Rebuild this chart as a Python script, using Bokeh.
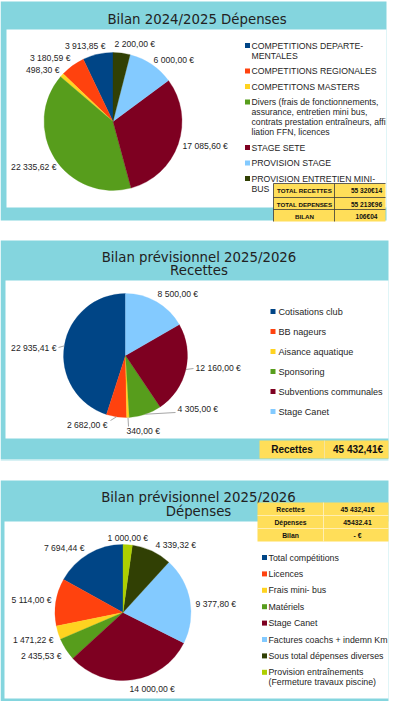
import numpy as np
from bokeh.plotting import figure
from bokeh.models import Range1d, ColumnDataSource
from bokeh.core.properties import value
from bokeh.embed import file_html
from bokeh.resources import INLINE

# ---------------- data ----------------
title1 = ["Bilan 2024/2025 Dépenses"]
dep24_labels = [
    "COMPETITIONS DEPARTE-\nMENTALES",
    "COMPETITIONS REGIONALES",
    "COMPETITONS MASTERS",
    "Divers (frais de fonctionnements,\nassurance, entretien mini bus,\ncontrats prestation entraîneurs, affi\nliation FFN, licences",
    "STAGE SETE",
    "PROVISION STAGE",
    "PROVISION ENTRETIEN MINI-\nBUS",
]
dep24_values = [3913.85, 3180.59, 498.30, 22335.62, 17085.60, 6000.00, 2200.00]
table24_labels = ["TOTAL RECETTES", "TOTAL DEPENSES", "BILAN"]
table24_values = ["55 320€14", "55 213€96", "106€04"]

title2 = ["Bilan prévisionnel 2025/2026", "Recettes"]
rec26_labels = ["Cotisations club", "BB nageurs", "Aisance aquatique", "Sponsoring",
                "Subventions communales", "Stage Canet"]
rec26_values = [22935.41, 2682.00, 340.00, 4305.00, 12160.00, 8500.00]
rec26_total = ["Recettes", "45 432,41€"]

title3 = ["Bilan prévisionnel 2025/2026", "Dépenses"]
dep26_labels = ["Total compétitions", "Licences", "Frais mini- bus", "Matériels", "Stage Canet",
                "Factures coachs + indemn Km", "Sous total dépenses diverses",
                "Provision entraînements\n(Fermeture travaux piscine)"]
dep26_values = [7694.44, 5114.00, 1471.22, 2435.53, 14000.00, 9377.80, 4339.32, 1000.00]
table26_labels = ["Recettes", "Dépenses", "Bilan"]
table26_values = ["45 432,41€", "45432.41", "- €"]

slice_colors = ["#004586", "#ff420e", "#ffd320", "#579d1c", "#7e0021", "#83caff", "#314004", "#aecf00"]

# ---------------- styles / layout ----------------
CYAN = "#84d5de"
YEL = "#ffde59"
TXT = "#1e1e1e"
LBL = "Liberation Sans"
TITLE_FONT = "DejaVu Sans"
W, H = 397, 701


def Y(y):
    return H - y


p = figure(width=W, height=H, x_range=Range1d(0, W), y_range=Range1d(0, H),
           output_backend="svg", toolbar_location=None, min_border=0)
p.xaxis.visible = False
p.yaxis.visible = False
p.xgrid.visible = False
p.ygrid.visible = False
p.outline_line_color = None
p.background_fill_color = "white"
p.border_fill_color = "white"


def box(l, r, t, b, color):
    p.quad(left=[l], right=[r], top=[Y(t)], bottom=[Y(b)], fill_color=color, line_color=None)


def hline(x0, x1, y, color, w=0.8):
    p.line([x0, x1], [Y(y), Y(y)], line_color=color, line_width=w)


def vline(x, y0, y1, color, w=0.8):
    p.line([x, x], [Y(y0), Y(y1)], line_color=color, line_width=w)


def text(x, y, s, size, font=LBL, align="left", baseline="middle", color=TXT, style="normal"):
    p.text(x=[x], y=[Y(y)], text=[s], text_font=value(font), text_font_size=f"{size}px",
           text_align=align, text_baseline=baseline, text_color=color, text_font_style=style)


def fmt(v):
    return f"{v:,.2f}".replace(",", " ").replace(".", ",") + " €"


def pie(cx, cy, r, vals, cols, lab_pos, size=8.6):
    v = np.asarray(vals, float)
    frac = v / v.sum()
    ends = np.cumsum(frac)
    starts = ends - frac
    a0 = np.pi / 2 + 2 * np.pi * starts
    a1 = np.pi / 2 + 2 * np.pi * ends
    n = len(v)
    src = ColumnDataSource(dict(x=[cx] * n, y=[Y(cy)] * n, a0=a0, a1=a1, c=cols[:n]))
    p.wedge(x="x", y="y", radius=r, start_angle="a0", end_angle="a1", direction="anticlock",
            fill_color="c", line_color="c", line_width=0.3, source=src)
    mid = (a0 + a1) / 2
    for i, (lx, ly, al, lead) in enumerate(lab_pos):
        text(lx, ly, fmt(v[i]), size, align=al)
        if lead is not None:
            ex = cx + r * np.cos(mid[i])
            ey = Y(cy) + r * np.sin(mid[i])
            p.line([ex, lead[0]], [ey, Y(lead[1])], line_color="#a6a6a6", line_width=1)


def legend(x_sq, x_txt, y0, step, lh, labels, cols, size, sq=5):
    y = y0
    for lab, c in zip(labels, cols):
        lines = lab.split("\n")
        p.scatter([x_sq], [Y(y)], marker="square", size=sq, fill_color=c, line_color=None)
        for k, ln in enumerate(lines):
            text(x_txt, y + k * lh, ln, size)
        y += step + (len(lines) - 1) * lh


# ---------------- panel 1 ----------------
box(0, 386, 1, 220, CYAN)
box(6, 386, 29, 207, "white")
text(196.5, 19.3, title1[0], 13.3, font=TITLE_FONT, align="center", baseline="alphabetic", color="#222222")
pie(112.5, 121, 69, dep24_values, slice_colors, [
    (105, 45, "right", None),
    (70, 57, "right", None),
    (59, 69, "right", None),
    (56, 166, "right", None),
    (182, 145, "left", None),
    (153, 59, "left", None),
    (114, 43, "left", None),
])
legend(247, 251, 45, 15.5, 10, dep24_labels, slice_colors, 8.7)
# table
box(273, 385, 183, 221, YEL)
for yy in (183, 197, 209):
    hline(273, 385, yy, "#3a3a3a")
vline(273, 183, 221, "#3a3a3a")
vline(334, 183, 221, "#3a3a3a")
for i, yy in enumerate((190, 203.5, 215.5)):
    text(304, yy, table24_labels[i], 6.2, align="center", style="bold", color="#111111")
    text(366, yy, table24_values[i], 6.6, align="center", style="bold", color="#111111")

# ---------------- panel 2 ----------------
box(0, 388, 240, 459, CYAN)
box(5, 388, 280, 438, "white")
hline(0, 388, 460, "#d8f1f4", 1)
text(198.5, 257.3, title2[0], 13.3, font=TITLE_FONT, align="center", baseline="alphabetic", color="#222222")
text(198.5, 270.3, title2[1], 13.3, font=TITLE_FONT, align="center", baseline="alphabetic", color="#222222")
pie(125, 355, 62, rec26_values, slice_colors, [
    (56, 347, "right", (58, 347)),
    (107, 424, "right", (110, 420)),
    (126, 430, "left", (128, 426)),
    (177, 408, "left", (175, 412)),
    (195, 367, "left", (193, 368)),
    (157, 293, "left", None),
])
legend(272.5, 278, 311, 20, 10, rec26_labels, slice_colors, 9.1)
box(259, 388, 440, 458, YEL)
vline(324, 440, 458, "#f2e6b0", 0.8)
text(291.5, 449, rec26_total[0], 10, align="center", style="bold", color="#111111")
text(357.5, 449, rec26_total[1], 10, align="center", style="bold", color="#111111")

# ---------------- panel 3 ----------------
box(0, 388, 480, 701, CYAN)
box(4, 388, 521, 698, "white")
text(198, 497.3, title3[0], 13.3, font=TITLE_FONT, align="center", baseline="alphabetic", color="#222222")
text(198, 510.7, title3[1], 13.3, font=TITLE_FONT, align="center", baseline="alphabetic", color="#222222")
pie(122.5, 612, 68, dep26_values, slice_colors, [
    (84, 547, "right", None),
    (51, 599, "right", None),
    (53, 639, "right", None),
    (61, 655, "right", None),
    (129, 688, "left", None),
    (195, 603, "left", None),
    (155, 544, "left", None),
    (107, 537, "left", None),
])
legend(264, 268, 557, 16.4, 9.5, dep26_labels, slice_colors, 8.8)
box(257, 388, 502, 541, YEL)
for yy in (515, 528):
    hline(257, 388, yy, "#fff3c8", 0.8)
vline(323, 502, 541, "#fff3c8", 0.8)
for i, yy in enumerate((509, 522, 535)):
    text(290, yy, table26_labels[i], 6.8, align="center", style="bold", color="#111111")
    text(357, yy, table26_values[i], 6.8, align="center", style="bold", color="#111111")

open("out.html", "w").write(file_html(p, INLINE))
